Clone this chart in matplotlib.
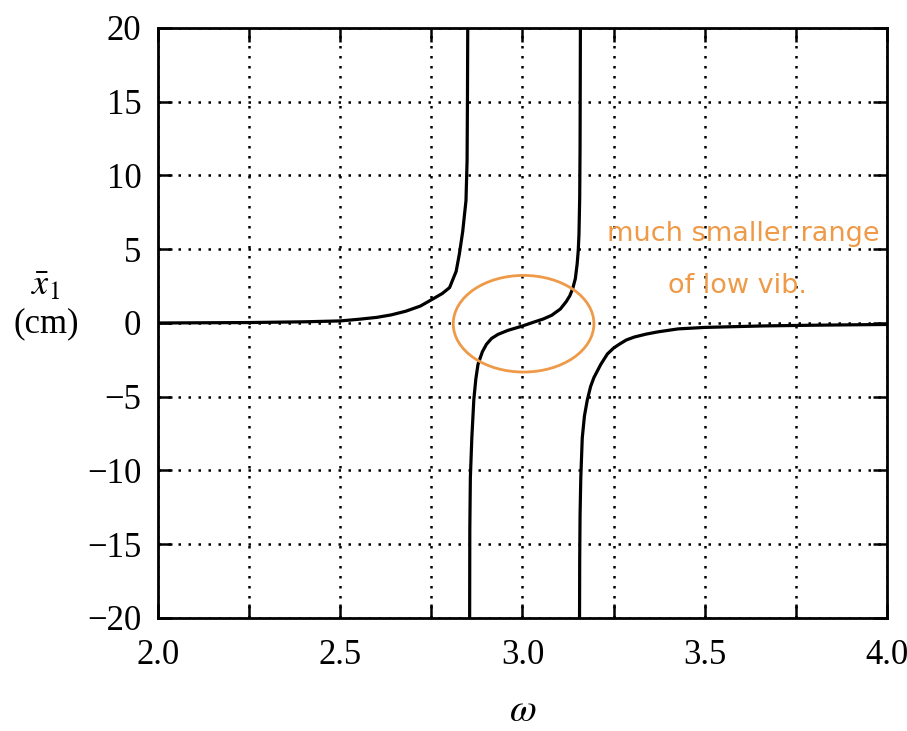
import matplotlib
matplotlib.use("Agg")
import matplotlib.pyplot as plt
from matplotlib.patches import Ellipse

# ---- data ----
branch1_w = [2.00, 2.25, 2.40, 2.50, 2.55, 2.60, 2.64, 2.68, 2.72, 2.752, 2.78, 2.80, 2.818, 2.827, 2.836, 2.845, 2.848, 2.849, 2.8499]
branch1_x = [0.00, 0.03, 0.08, 0.14, 0.25, 0.38, 0.55, 0.80, 1.15, 1.60, 2.00, 2.40, 3.50, 4.70, 6.20, 8.30, 11.0, 15.0, 20.5]

branch2_w = [2.8550, 2.8555, 2.857, 2.861, 2.8665, 2.872, 2.878, 2.89, 2.901, 2.915, 2.933, 2.96, 2.998, 3.03, 3.057, 3.08, 3.104, 3.12, 3.13, 3.138, 3.145, 3.150, 3.153, 3.155, 3.157, 3.158, 3.159]
branch2_x = [-20.5, -14.0, -10.5, -7.8, -5.2, -3.8, -2.8, -1.95, -1.45, -1.05, -0.77, -0.50, -0.22, 0.05, 0.27, 0.52, 0.95, 1.45, 1.85, 2.35, 3.00, 4.00, 4.90, 6.00, 8.50, 12.0, 20.5]

branch3_w = [3.1565, 3.157, 3.158, 3.160, 3.164, 3.170, 3.178, 3.187, 3.196, 3.215, 3.233, 3.25, 3.265, 3.285, 3.307, 3.34, 3.372, 3.427, 3.50, 3.658, 3.80, 4.00]
branch3_x = [-20.5, -16.0, -13.0, -10.5, -7.8, -6.3, -5.2, -4.3, -3.7, -2.8, -2.1, -1.7, -1.45, -1.15, -0.95, -0.75, -0.60, -0.40, -0.30, -0.20, -0.15, -0.10]

x_ticks = [2.0, 2.25, 2.5, 2.75, 3.0, 3.25, 3.5, 3.75, 4.0]
x_labels = ["2.0", "", "2.5", "", "3.0", "", "3.5", "", "4.0"]
y_ticks = [-20, -15, -10, -5, 0, 5, 10, 15, 20]
y_labels = ["\u221220", "\u221215", "\u221210", "\u22125", "0", "5", "10", "15", "20"]

note_line1 = "much smaller range"
note_line2 = "of low vib."

plt.rcParams['font.family'] = ['Liberation Serif', 'DejaVu Serif']
plt.rcParams['mathtext.fontset'] = 'stix'

fig = plt.figure(figsize=(9.07, 7.31), dpi=100)
ax = fig.add_axes([0.1742, 0.1546, 0.8037, 0.8071])

for w, xv in [(branch1_w, branch1_x), (branch2_w, branch2_x), (branch3_w, branch3_x)]:
    ax.plot(w, xv, color='black', linewidth=2.3, zorder=3, solid_joinstyle='round')

ax.set_xlim(2.0, 4.0)
ax.set_ylim(-20, 20)
ax.set_xticks(x_ticks)
ax.set_xticklabels(x_labels)
ax.set_yticks(y_ticks)
ax.set_yticklabels(y_labels)
ax.grid(True, color='black', linestyle=(0, (1, 3.0)), linewidth=1.8)
ax.tick_params(direction='in', length=10, width=1.8, top=True, right=True,
               labelsize=25, colors='black')
ax.tick_params(axis='x', pad=15)
ax.tick_params(axis='y', pad=12)
for s in ax.spines.values():
    s.set_linewidth(2.0)

ax.set_xlabel(r'$\omega$', fontsize=28, labelpad=15)
fig.text(0.050, 0.608, r'$\bar{x}_1$', fontsize=26, ha='center', va='center')
fig.text(0.051, 0.557, '(cm)', fontsize=25, ha='center', va='center')

orange = '#EE9A48'
ax.add_patch(Ellipse((3.003, -0.05), 0.386, 6.55, fill=False, edgecolor=orange,
                     linewidth=2.0, zorder=4))
ax.text(3.605, 6.0, note_line1, color=orange, fontsize=19.5, ha='center', va='center',
        family=['DejaVu Sans'], zorder=5)
ax.text(3.59, 2.5, note_line2, color=orange, fontsize=19.5, ha='center', va='center',
        family=['DejaVu Sans'], zorder=5)

fig.savefig('out.png', dpi=100, facecolor='white')
